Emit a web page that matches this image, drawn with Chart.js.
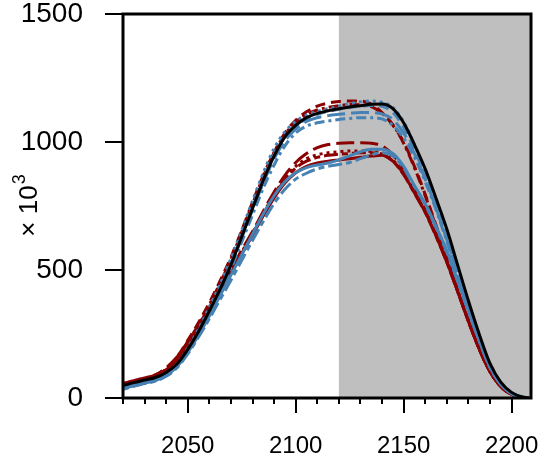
<!DOCTYPE html>
<html>
<head>
<meta charset="utf-8">
<script src="https://cdn.jsdelivr.net/npm/chart.js@4/dist/chart.umd.min.js"></script>
<style>
  html, body { margin: 0; padding: 0; background: #fff; }
  #wrap { width: 542px; height: 456px; }
</style>
</head>
<body>
<div id="wrap"><canvas id="c" width="542" height="456"></canvas></div>
<script>
/* ---- data (values in thousands) ---- */
const years = [2020,2025,2030,2035,2040,2045,2050,2055,2060,2065,2070,2075,2080,2085,2090,2095,2100,2105,2110,2115,2120,2125,2130,2135,2140,2145,2150,2155,2160,2165,2170,2175,2180,2185,2190,2195,2200,2205,2208];

const black       = [48,60,70,80,100,133,190,260,340,425,520,630,740,850,945,1020,1065,1095,1112,1122,1130,1137,1142,1147,1148,1130,1075,990,895,780,660,520,380,250,135,62,22,4,0];

const blueDotted  = [40,52,62,72,92,130,195,270,355,445,545,655,770,880,975,1040,1080,1105,1120,1130,1140,1150,1157,1160,1155,1135,1078,990,880,760,630,495,360,235,127,57,19,3,0];
const blueDashed  = [38,50,60,70,90,128,188,262,342,430,525,635,745,855,950,1020,1062,1090,1108,1120,1128,1135,1140,1143,1140,1115,1058,970,865,748,622,490,356,232,125,55,18,3,0];
const blueLong    = [40,52,62,72,92,130,190,262,340,425,520,625,735,840,935,1005,1050,1080,1095,1103,1108,1112,1115,1115,1110,1088,1035,955,855,742,618,488,355,232,125,55,18,3,0];
const blueDotDash = [40,52,62,72,92,128,186,255,332,415,505,610,715,820,910,985,1035,1062,1075,1082,1088,1092,1095,1095,1090,1065,1015,940,845,735,612,485,352,230,123,54,18,3,0];
const blueSolid   = [36,48,58,68,88,122,178,245,320,400,480,560,640,720,790,845,880,900,910,918,930,946,962,972,972,955,905,830,760,670,575,460,340,225,120,54,18,3,0];
const blueTwoDash = [34,46,56,66,85,118,172,238,310,385,460,538,615,690,760,815,855,878,895,905,912,920,935,950,958,945,898,825,755,665,570,455,338,222,118,53,17,3,0];

const redDashed   = [55,68,78,90,116,160,225,295,372,458,550,655,765,870,960,1035,1085,1118,1140,1152,1158,1160,1160,1148,1115,1065,1000,905,795,675,550,425,305,195,105,46,14,2,0];
const redDotDash  = [52,65,75,87,112,155,218,288,365,450,542,648,758,865,958,1030,1078,1108,1125,1135,1142,1146,1145,1138,1112,1068,995,900,790,670,548,423,303,194,104,45,14,2,0];
const redLong     = [55,68,78,90,118,160,220,285,355,430,500,578,650,730,805,870,920,955,978,990,995,997,997,995,985,950,890,815,735,640,535,420,302,193,104,45,14,2,0];
const redDotted   = [52,65,76,88,112,152,212,280,350,425,495,570,645,722,795,858,905,935,950,958,962,965,965,963,958,930,878,805,728,635,532,418,300,192,103,45,14,2,0];
const redTwoDash  = [50,63,74,86,110,150,208,275,345,420,490,565,640,718,790,852,898,925,940,948,952,955,958,958,952,925,872,800,725,632,530,416,299,191,103,45,14,2,0];
const redSolid    = [50,63,74,86,110,150,208,275,345,418,488,562,636,712,782,840,880,905,918,925,930,935,940,945,948,925,875,802,726,634,531,417,300,192,103,45,14,2,0];

const shadeFrom = 2120;
const yTickValues = [0, 500, 1000, 1500];
const yTitle = '× 10';
const yTitleSup = '3';

const BLUE = '#4682b4';
const RED = '#8b0000';
const FONT = '"Liberation Sans", Arial, sans-serif';

// R-like line types
const DOTTED = [3, 4], DASHED = [10, 6], LONGDASH = [18, 6], DOTDASH = [3, 4, 10, 4], TWODASH = [6, 4, 14, 4];

const pts = vals => vals.map((v, i) => ({ x: years[i], y: v }));
const line = (vals, color, dash) => ({
  data: pts(vals),
  borderColor: color,
  borderWidth: 3,
  borderDash: dash,
  pointRadius: 0,
  fill: false,
  cubicInterpolationMode: 'monotone'
});

// grey band, box, tick marks and the rotated unit label
const frame = {
  id: 'frame',
  beforeDatasetsDraw(chart) {
    const { ctx, chartArea: a, scales: { x } } = chart;
    const x0 = x.getPixelForValue(shadeFrom);
    ctx.save();
    ctx.fillStyle = '#bfbfbf';
    ctx.fillRect(x0, a.top, a.right - x0, a.bottom - a.top);
    ctx.restore();
  },
  afterDraw(chart) {
    const { ctx, chartArea: a, scales: { x, y } } = chart;
    ctx.save();
    ctx.strokeStyle = '#000';
    ctx.lineWidth = 2;
    ctx.beginPath();
    for (let v = 2020; v <= 2200; v += 10) {
      const px = Math.round(x.getPixelForValue(v));
      const len = v % 50 === 0 ? 15 : 6;
      ctx.moveTo(px, a.bottom);
      ctx.lineTo(px, a.bottom + len);
    }
    yTickValues.forEach(v => {
      const py = Math.round(y.getPixelForValue(v));
      ctx.moveTo(a.left - 18, py);
      ctx.lineTo(a.left, py);
    });
    ctx.stroke();
    ctx.lineWidth = 3;
    ctx.strokeRect(a.left, a.top, a.right - a.left, a.bottom - a.top);

    // "× 10^3" reading bottom to top
    ctx.translate(37, (a.top + a.bottom) / 2);
    ctx.rotate(-Math.PI / 2);
    ctx.fillStyle = '#000';
    ctx.textBaseline = 'alphabetic';
    ctx.font = '26px ' + FONT;
    const w1 = ctx.measureText(yTitle).width;
    ctx.font = '18px ' + FONT;
    const w2 = ctx.measureText(yTitleSup).width;
    const start = -(w1 + w2) / 2;
    ctx.font = '26px ' + FONT;
    ctx.fillText(yTitle, start, 0);
    ctx.font = '18px ' + FONT;
    ctx.fillText(yTitleSup, start + w1 + 1, -12);
    ctx.restore();
  }
};

new Chart(document.getElementById('c'), {
  type: 'line',
  data: {
    datasets: [
      line(black, '#000000', []),
      line(blueDotted, BLUE, DOTTED),
      line(blueDashed, BLUE, DASHED),
      line(blueLong, BLUE, LONGDASH),
      line(blueDotDash, BLUE, DOTDASH),
      line(blueSolid, BLUE, []),
      line(blueTwoDash, BLUE, TWODASH),
      line(redDashed, RED, DASHED),
      line(redDotDash, RED, DOTDASH),
      line(redLong, RED, LONGDASH),
      line(redDotted, RED, DOTTED),
      line(redTwoDash, RED, TWODASH),
      line(redSolid, RED, [])
    ]
  },
  options: {
    responsive: false,
    animation: false,
    layout: { padding: { left: 0, top: 14, right: 11, bottom: 0 } },
    plugins: { legend: { display: false }, tooltip: { enabled: false } },
    scales: {
      x: {
        type: 'linear',
        min: 2020, max: 2209,
        afterFit: s => { s.height = 58; },
        border: { display: false },
        grid: { drawOnChartArea: false, color: 'transparent', tickLength: 36 },
        ticks: {
          stepSize: 50, includeBounds: false, padding: 0, maxRotation: 0,
          callback: v => String(v),
          color: '#000', font: { family: FONT, size: 24, lineHeight: 1 }
        }
      },
      y: {
        min: 0, max: 1500,
        afterFit: s => { s.width = 123; },
        border: { display: false },
        grid: { drawOnChartArea: false, color: 'transparent', tickLength: 40 },
        ticks: {
          stepSize: 500, padding: 0,
          callback: v => String(v),
          color: '#000', font: { family: FONT, size: 28, lineHeight: 1 }
        }
      }
    }
  },
  plugins: [frame]
});
</script>
</body>
</html>
